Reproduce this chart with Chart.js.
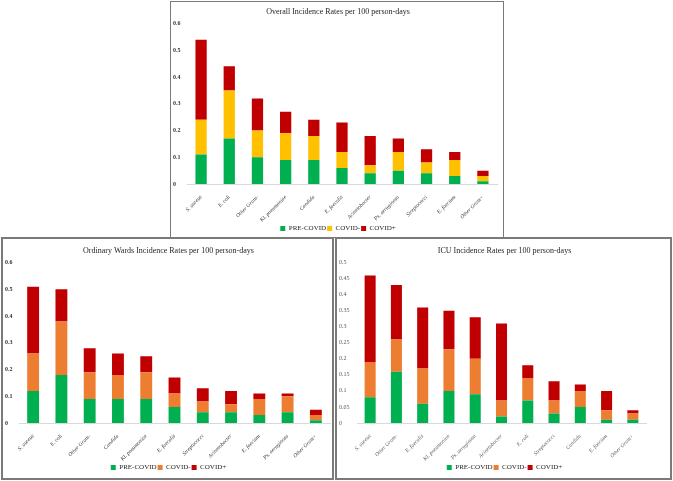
<!DOCTYPE html>
<html>
<head>
<meta charset="utf-8">
<script src="https://cdn.jsdelivr.net/npm/chart.js@4"></script>
<style>
  body { margin: 0; background: #fff; width: 673px; height: 481px; position: relative; overflow: hidden; }
  .box { position: absolute; box-sizing: border-box; border: 1px solid #7a7a7a; background: #fff; overflow: hidden; }
  .box canvas { display: block; }
  #boxOverall { left: 170px; top: 1px; width: 334px; height: 237px; }
  #boxWards { left: 1px; top: 237px; width: 333px; height: 243px; border-width: 2px; }
  #boxIcu { left: 335px; top: 237px; width: 337px; height: 243px; border-width: 2px; }
</style>
</head>
<body>
<div class="box" id="boxOverall"><canvas id="overallChart" width="332" height="240"></canvas></div>
<div class="box" id="boxWards"><canvas id="wardsChart" width="329" height="242"></canvas></div>
<div class="box" id="boxIcu"><canvas id="icuChart" width="333" height="242"></canvas></div>
<script>
// Données (valeurs de chaque segment empilé)
const overallLabels = ["S. aureus", "E. coli", "Other Gram-", "Kl. pneumoniae", "Candida", "E. faecalis", "Acinetobacter", "Ps. aeruginosa", "Streptococci", "E. faecium", "Other Gram+"];
const overallPre = [0.11, 0.17, 0.10, 0.09, 0.09, 0.06, 0.04, 0.05, 0.04, 0.03, 0.01];
const overallNeg = [0.13, 0.18, 0.10, 0.10, 0.09, 0.06, 0.03, 0.07, 0.04, 0.06, 0.02];
const overallPos = [0.30, 0.09, 0.12, 0.08, 0.06, 0.11, 0.11, 0.05, 0.05, 0.03, 0.02];

const wardsLabels = ["S. aureus", "E. coli", "Other Gram-", "Candida", "Kl. pneumoniae", "E. faecalis", "Streptococci", "Acinetobacter", "E. faecium", "Ps. aeruginosa", "Other Gram+"];
const wardsPre = [0.12, 0.18, 0.09, 0.09, 0.09, 0.06, 0.04, 0.04, 0.03, 0.04, 0.01];
const wardsNeg = [0.14, 0.20, 0.10, 0.09, 0.10, 0.05, 0.04, 0.03, 0.06, 0.06, 0.02];
const wardsPos = [0.25, 0.12, 0.09, 0.08, 0.06, 0.06, 0.05, 0.05, 0.02, 0.01, 0.02];

const icuLabels = ["S. aureus", "Other Gram-", "E. faecalis", "Kl. pneumoniae", "Ps. aeruginosa", "Acinetobacter", "E. coli", "Streptococci", "Candida", "E. faecium", "Other Gram+"];
const icuPre = [0.08, 0.16, 0.06, 0.10, 0.09, 0.02, 0.07, 0.03, 0.05, 0.01, 0.01];
const icuNeg = [0.11, 0.10, 0.11, 0.13, 0.11, 0.05, 0.07, 0.04, 0.05, 0.03, 0.02];
const icuPos = [0.27, 0.17, 0.19, 0.12, 0.13, 0.24, 0.04, 0.06, 0.02, 0.06, 0.01];

const seriesNames = ["PRE-COVID", "COVID-", "COVID+"];

const SERIF = "'Liberation Serif', 'DejaVu Serif', serif";
const GREEN = "#00b050";
const RED = "#c00000";

function createChart(id, cfg) {
  const ctx = document.getElementById(id).getContext("2d");
  return new Chart(ctx, {
    type: "bar",
    data: {
      labels: cfg.labels,
      datasets: [
        { label: seriesNames[0], data: cfg.pre, backgroundColor: GREEN },
        { label: seriesNames[1], data: cfg.neg, backgroundColor: cfg.midColor },
        { label: seriesNames[2], data: cfg.pos, backgroundColor: RED },
      ],
    },
    options: {
      responsive: false,
      animation: false,
      layout: { padding: { left: 2, right: 0, top: 0, bottom: 0 } },
      datasets: { bar: { barPercentage: cfg.barPct, categoryPercentage: 1 } },
      plugins: {
        title: {
          display: true,
          text: cfg.title,
          color: "#262626",
          font: { family: SERIF, size: 8, weight: "normal" },
          padding: cfg.titlePadding,
        },
        legend: {
          position: "bottom",
          labels: {
            boxWidth: 5,
            boxHeight: 5,
            padding: 1,
            color: "#262626",
            font: { family: SERIF, size: 7 },
          },
        },
        tooltip: { enabled: false },
      },
      scales: {
        x: {
          stacked: true,
          grid: { display: false },
          border: { color: "#d9d9d9" },
          ticks: {
            minRotation: 45,
            maxRotation: 45,
            padding: 2,
            color: cfg.tickColor,
            font: { family: SERIF, size: 5.5, style: "italic" },
          },
          afterFit: (scale) => { scale.height = 40; },
        },
        y: {
          stacked: true,
          min: 0,
          max: cfg.yMax,
          grid: { display: false },
          border: { display: false },
          ticks: {
            stepSize: cfg.yStep,
            padding: 2,
            crossAlign: "far",
            color: cfg.tickColor,
            font: { family: SERIF, size: 6, weight: cfg.yBold ? "bold" : "normal" },
            callback: (v) => String(Math.round(v * 100) / 100),
          },
          afterFit: (scale) => { scale.width = cfg.yWidth; },
        },
        // axe vide à droite, juste pour réserver la marge
        gap: {
          position: "right",
          grid: { display: false, drawTicks: false },
          border: { display: false },
          ticks: { display: false },
          afterFit: (scale) => { scale.width = cfg.rightGap; },
        },
      },
    },
  });
}

createChart("overallChart", {
  labels: overallLabels, pre: overallPre, neg: overallNeg, pos: overallPos,
  title: "Overall Incidence Rates per 100 person-days",
  midColor: "#ffc000", yMax: 0.6, yStep: 0.1, yBold: true, tickColor: "#333",
  titlePadding: { top: 5, bottom: 7 },
  yWidth: 14, rightGap: 6, barPct: 0.4,
});

createChart("wardsChart", {
  labels: wardsLabels, pre: wardsPre, neg: wardsNeg, pos: wardsPos,
  title: "Ordinary Wards Incidence Rates per 100 person-days",
  midColor: "#ed7d31", yMax: 0.6, yStep: 0.1, yBold: true, tickColor: "#333",
  titlePadding: { top: 7, bottom: 7 },
  yWidth: 14, rightGap: 2, barPct: 0.42,
});

createChart("icuChart", {
  labels: icuLabels, pre: icuPre, neg: icuNeg, pos: icuPos,
  title: "ICU Incidence Rates per 100 person-days",
  midColor: "#ed7d31", yMax: 0.5, yStep: 0.05, yBold: false, tickColor: "#595959",
  titlePadding: { top: 7, bottom: 7 },
  yWidth: 18, rightGap: 24, barPct: 0.42,
});
</script>
</body>
</html>
